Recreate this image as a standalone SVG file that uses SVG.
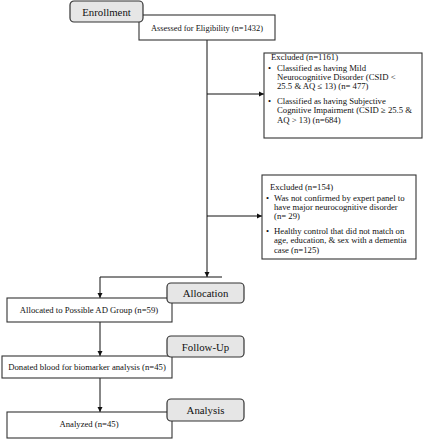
<svg xmlns="http://www.w3.org/2000/svg" width="430" height="440" viewBox="0 0 430 440">
<defs>
<marker id="ah" markerWidth="6" markerHeight="6" refX="5" refY="3" orient="auto" markerUnits="userSpaceOnUse">
<path d="M0,0.5 L5,3 L0,5.5 Z" fill="#111"/>
</marker>
<style>
.box{fill:#fff;stroke:#333;stroke-width:1.1}
.hdr{fill:#e6e6e6;stroke:#333;stroke-width:1.2}
.t{font-family:"Liberation Serif","Times New Roman",serif;font-size:8.7px;fill:#111}
.h{font-family:"Liberation Serif","Times New Roman",serif;font-size:10.8px;fill:#111;text-anchor:middle}
.c{text-anchor:middle}
.ln{stroke:#111;stroke-width:1;fill:none}
</style>
</defs>
<rect width="430" height="440" fill="#fff"/>

<g id="connectors">
<line class="ln" x1="207" y1="40" x2="207" y2="277" marker-end="url(#ah)"/>
<line class="ln" x1="207" y1="94" x2="264" y2="94" marker-end="url(#ah)"/>
<line class="ln" x1="207" y1="216" x2="262" y2="216" marker-end="url(#ah)"/>
<line class="ln" x1="100" y1="277" x2="222" y2="277"/>
<line class="ln" x1="100" y1="277" x2="100" y2="298" marker-end="url(#ah)"/>
<line class="ln" x1="100" y1="322" x2="100" y2="356" marker-end="url(#ah)"/>
<line class="ln" x1="100" y1="378" x2="100" y2="412" marker-end="url(#ah)"/>
</g>

<g id="assessed">
<rect class="box" x="139" y="15" width="136" height="25"/>
<text class="t c" x="207" y="31" style="font-size:8.4px">Assessed for Eligibility (n=1432)</text>
</g>

<g id="enrollment">
<rect class="hdr" x="70" y="1" width="73" height="21" rx="4"/>
<text class="h" x="106.5" y="15.5">Enrollment</text>
</g>

<g id="excluded1">
<rect class="box" x="264" y="53" width="158" height="85"/>
<text class="t" x="271" y="60">Excluded (n=1161)</text>
<text class="t" x="268" y="70.5">•</text>
<text class="t" x="277" y="70.5">Classified as having Mild</text>
<text class="t" x="277" y="79.5">Neurocognitive Disorder (CSID &lt;</text>
<text class="t" x="277" y="88.5">25.5 &amp; AQ ≤ 13) (n= 477)</text>
<text class="t" x="268" y="103.5">•</text>
<text class="t" x="277" y="103.5">Classified as having Subjective</text>
<text class="t" x="277" y="113">Cognitive Impairment (CSID ≥ 25.5 &amp;</text>
<text class="t" x="277" y="123">AQ &gt; 13) (n=684)</text>
</g>

<g id="excluded2">
<rect class="box" x="262" y="175" width="154" height="84"/>
<text class="t" x="270" y="190">Excluded (n=154)</text>
<text class="t" x="266" y="201">•</text>
<text class="t" x="274" y="201">Was not confirmed by expert panel to</text>
<text class="t" x="274" y="210">have major neurocognitive disorder</text>
<text class="t" x="274" y="218.5">(n= 29)</text>
<text class="t" x="266" y="234">•</text>
<text class="t" x="274" y="234">Healthy control that did not match on</text>
<text class="t" x="274" y="243">age, education, &amp; sex with a dementia</text>
<text class="t" x="274" y="252.5">case (n=125)</text>
</g>

<g id="allocated">
<rect class="box" x="7" y="298" width="165" height="24"/>
<text class="t c" x="89" y="313">Allocated to Possible AD Group (n=59)</text>
</g>

<g id="allocation">
<rect class="hdr" x="167" y="283" width="77" height="20" rx="4"/>
<text class="h" x="205.5" y="297">Allocation</text>
</g>

<g id="donated">
<rect class="box" x="2" y="356" width="170" height="22"/>
<text class="t c" x="87" y="370">Donated blood for biomarker analysis (n=45)</text>
</g>

<g id="followup">
<rect class="hdr" x="167" y="336" width="77" height="21" rx="4"/>
<text class="h" x="205.5" y="350.5">Follow-Up</text>
</g>

<g id="analyzed">
<rect class="box" x="7" y="412" width="165" height="26"/>
<text class="t c" x="89" y="427">Analyzed (n=45)</text>
</g>

<g id="analysis">
<rect class="hdr" x="167" y="399" width="77" height="22" rx="4"/>
<text class="h" x="205.5" y="414">Analysis</text>
</g>
</svg>
